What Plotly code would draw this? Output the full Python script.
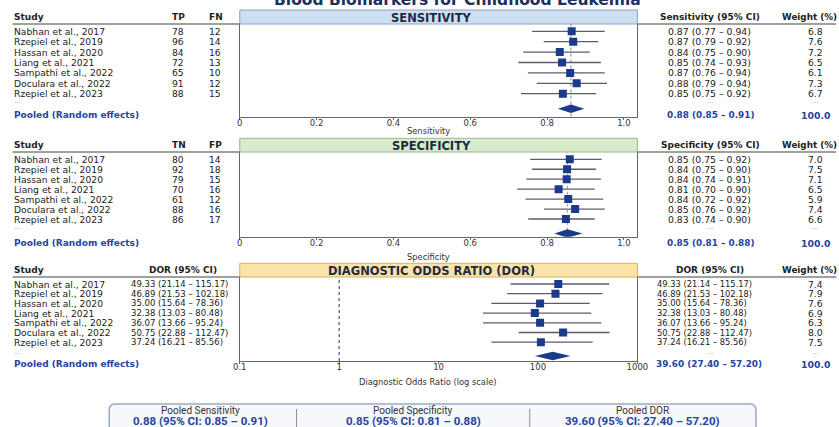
import plotly.graph_objects as go

W, H = 839, 427

# ---------------- data ----------------
studies = ["Nabhan et al., 2017", "Rzepiel et al., 2019", "Hassan et al., 2020",
           "Liang et al., 2021", "Sampathi et al., 2022", "Doculara et al., 2022",
           "Rzepiel et al., 2023"]
tp = [78, 96, 84, 72, 65, 91, 88]
fn = [12, 14, 16, 13, 10, 12, 15]
tn = [80, 92, 79, 70, 61, 88, 86]
fp = [14, 18, 15, 16, 12, 16, 17]

# printed values (tables)
sens_est = [0.87, 0.87, 0.84, 0.85, 0.87, 0.88, 0.85]
sens_lo = [0.77, 0.79, 0.75, 0.74, 0.76, 0.79, 0.75]
sens_hi = [0.94, 0.92, 0.90, 0.93, 0.94, 0.94, 0.92]
sens_w = [6.8, 7.6, 7.2, 6.5, 6.1, 7.3, 6.7]
sens_pool = (0.88, 0.85, 0.91)

spec_est = [0.85, 0.84, 0.84, 0.81, 0.84, 0.85, 0.83]
spec_lo = [0.75, 0.75, 0.74, 0.70, 0.72, 0.76, 0.74]
spec_hi = [0.92, 0.90, 0.91, 0.90, 0.92, 0.92, 0.90]
spec_w = [7.0, 7.5, 7.1, 6.5, 5.9, 7.4, 6.6]
spec_pool = (0.85, 0.81, 0.88)

dor_est = [49.33, 46.89, 35.00, 32.38, 36.07, 50.75, 37.24]
dor_lo = [21.14, 21.53, 15.64, 13.03, 13.66, 22.88, 16.21]
dor_hi = [115.17, 102.18, 78.36, 80.48, 95.24, 112.47, 85.56]
dor_w = [7.4, 7.9, 7.6, 6.9, 6.3, 8.0, 7.5]
dor_pool = (39.60, 27.40, 57.20)

# drawn positions of the marks as they appear in the figure
sens_plot_est = [0.864, 0.868, 0.833, 0.839, 0.860, 0.877, 0.841]
sens_plot_lo = [0.761, 0.791, 0.738, 0.725, 0.750, 0.773, 0.732]
sens_plot_hi = [0.950, 0.933, 0.911, 0.940, 0.950, 0.956, 0.928]
sens_plot_pool = (0.862, 0.828, 0.897)

spec_plot_est = [0.859, 0.852, 0.851, 0.830, 0.855, 0.873, 0.849]
spec_plot_lo = [0.756, 0.761, 0.746, 0.722, 0.744, 0.792, 0.751]
spec_plot_hi = [0.942, 0.927, 0.940, 0.924, 0.946, 0.950, 0.924]
spec_plot_pool = (0.853, 0.819, 0.892)

dor_plot_est = [160, 150, 105, 93, 105, 179, 107]
dor_plot_lo = [53, 49, 34, 28, 28, 64, 34]
dor_plot_hi = [521, 447, 331, 344, 433, 525, 355]
dor_plot_pool = (141, 93, 212)
dor_ref_line = 1

lin_ticks = [0, 0.2, 0.4, 0.6, 0.8, 1.0]
lin_ticktext = ["0", "0.2", "0.4", "0.6", "0.8", "1.0"]
log_ticks = [0.1, 1, 10, 100, 1000]
log_ticktext = ["0.1", "1", "10", "100", "1000"]

# ---------------- styling / layout constants ----------------
FONT = "DejaVu Sans"
NAVY = "#1b3a8c"
BLUE = "#2444a0"
TXT = "#222222"
CI_COL = "#5a5c6c"
PX0, PX1 = 239, 638
# horizontal compensation for the capture (observed x_shown = 0.982 * x + 5.4)
XS, XO = 0.982, 5.4
DOTS = "\u00b7\u00b7\u00b7"


def xp(p):
    return ((p - XO) / XS) / W


def yp(p):
    return 1 - p / H


fig = go.Figure()
annotations = []
shapes = []


def text(x, y, s, size=9.2, bold=False, color=TXT, xanchor="left", family=FONT):
    annotations.append(dict(
        x=xp(x), y=yp(y), xref="paper", yref="paper", text=(f"<b>{s}</b>" if bold else s),
        showarrow=False, xanchor=xanchor, yanchor="middle", borderpad=0,
        font=dict(family=family, size=size, color=color)))


sections = [
    dict(ax="", title="SENSITIVITY", band=(10, 24), axis=116.5, row0=31.3, dy=10.4,
         dots=103.5, pooled=115.3, dia=108.7, head=16.5,
         fill="#cddff3", border="#8aa3c4", xtitle="Sensitivity", xtitle_y=130.5,
         colA="TP", colB="FN", A=tp, B=fn, right_head="Sensitivity (95% CI)",
         est=sens_est, lo=sens_lo, hi=sens_hi, w=sens_w, pool=sens_pool,
         pest=sens_plot_est, plo=sens_plot_lo, phi=sens_plot_hi, ppool=sens_plot_pool,
         ref=sens_plot_pool[0], refcol="#9a9a9a", log=False),
    dict(ax="2", title="SPECIFICITY", band=(138.3, 152), axis=236.7, row0=159.3, dy=9.95,
         dots=228.5, pooled=243.3, dia=233.5, head=144.7,
         fill="#d6ecca", border="#98b98a", xtitle="Specificity", xtitle_y=256.5,
         colA="TN", colB="FP", A=tn, B=fp, right_head="Specificity (95% CI)",
         est=spec_est, lo=spec_lo, hi=spec_hi, w=spec_w, pool=spec_pool,
         pest=spec_plot_est, plo=spec_plot_lo, phi=spec_plot_hi, ppool=spec_plot_pool,
         ref=spec_plot_pool[0], refcol="#a8a8a8", log=False),
    dict(ax="3", title="DIAGNOSTIC ODDS RATIO (DOR)", band=(263.3, 277), axis=361, row0=284, dy=9.7,
         dots=353.5, pooled=364.3, dia=356, head=269.7,
         fill="#fbe3a8", border="#d2b261", xtitle="Diagnostic Odds Ratio (log scale)", xtitle_y=381.5,
         colA=None, colB=None, A=None, B=None, right_head="DOR (95% CI)",
         est=dor_est, lo=dor_lo, hi=dor_hi, w=dor_w, pool=dor_pool,
         pest=dor_plot_est, plo=dor_plot_lo, phi=dor_plot_hi, ppool=dor_plot_pool,
         ref=dor_ref_line, refcol="#555555", log=True),
]

layout_axes = {}
for s in sections:
    ax = s["ax"]
    xname, yname = "x" + ax, "y" + ax
    top = s["band"][1]
    bot = s["axis"]
    n = len(studies)
    rows = [s["row0"] + i * s["dy"] for i in range(n)]

    # CI lines
    cx, cy = [], []
    for i in range(n):
        cx += [s["plo"][i], s["phi"][i], None]
        cy += [rows[i], rows[i], None]
    fig.add_trace(go.Scatter(x=cx, y=cy, mode="lines", line=dict(color=CI_COL, width=1.3),
                             xaxis=xname, yaxis=yname, hoverinfo="skip", showlegend=False))
    # study markers
    fig.add_trace(go.Scatter(x=s["pest"], y=rows, mode="markers",
                             marker=dict(symbol="square", size=8, color=NAVY, line=dict(width=0)),
                             xaxis=xname, yaxis=yname, showlegend=False))
    # pooled diamond
    pe, pl, ph = s["ppool"]
    d = s["dia"]
    hh = 4.3
    fig.add_trace(go.Scatter(x=[pl, pe, ph, pe, pl], y=[d, d - hh, d, d + hh, d], mode="lines",
                             fill="toself", fillcolor=NAVY, line=dict(width=0, color=NAVY),
                             xaxis=xname, yaxis=yname, showlegend=False, hoverinfo="skip"))
    # reference dotted line
    shapes.append(dict(type="line", xref=xname, yref=yname + " domain", x0=s["ref"], x1=s["ref"],
                       y0=0, y1=1, line=dict(color=s["refcol"], width=1.2, dash="dot"), layer="below"))

    key = "xaxis" + ax
    ykey = "yaxis" + ax
    if s["log"]:
        xcfg = dict(type="log", range=[-1, 3], tickvals=log_ticks, ticktext=log_ticktext)
    else:
        xcfg = dict(range=[0, 1.035], tickvals=lin_ticks, ticktext=lin_ticktext)
    xcfg.update(domain=[xp(PX0), xp(PX1)], anchor=yname, showline=True, mirror=True,
                linecolor="#666666", linewidth=1, ticks="outside", ticklen=2, tickcolor="#666666",
                tickfont=dict(family=FONT, size=8.5, color="#333333"), showgrid=False,
                zeroline=False, fixedrange=True, ticklabelstandoff=-4)
    layout_axes[key] = xcfg
    layout_axes[ykey] = dict(domain=[yp(bot), yp(top)], range=[bot, top], anchor=xname,
                             showline=True, mirror=True, linecolor="#666666", linewidth=1,
                             showticklabels=False, ticks="", showgrid=False, zeroline=False)

    # header band
    b0, b1 = s["band"]
    shapes.append(dict(type="rect", xref="paper", yref="paper", x0=xp(PX0), x1=xp(PX1),
                       y0=yp(b1), y1=yp(b0), fillcolor=s["fill"],
                       line=dict(color=s["border"], width=1)))
    text(431, (b0 + b1) / 2 + 0.5, s["title"], size=11.5, bold=True, color="#1e2a44", xanchor="center")

    # header separator lines
    shapes.append(dict(type="line", xref="paper", yref="paper", x0=xp(11), x1=xp(PX0),
                       y0=yp(b1), y1=yp(b1), line=dict(color="#808080", width=1.3)))
    shapes.append(dict(type="line", xref="paper", yref="paper", x0=xp(PX1), x1=1.01,
                       y0=yp(b1), y1=yp(b1), line=dict(color="#808080", width=1.3)))

    # left table
    hy = s["head"]
    text(11, hy, "Study", bold=True, size=9)
    if s["colA"]:
        text(170, hy, s["colA"], bold=True, size=9)
        text(207, hy, s["colB"], bold=True, size=9)
    else:
        text(182, hy, "DOR (95% CI)", bold=True, size=9, xanchor="center")
    for i in range(n):
        text(11, rows[i], studies[i])
        if s["colA"]:
            text(170, rows[i], str(s["A"][i]))
            text(207, rows[i], str(s["B"][i]))
        else:
            text(129, rows[i], "{:.2f} ({:.2f} – {:.2f})".format(s["est"][i], s["lo"][i], s["hi"][i]),
                 size=8.5)
    text(11, s["dots"], DOTS, size=7, color="#999999")
    text(11, s["pooled"], "Pooled (Random effects)", bold=True, size=9, color=BLUE)

    # right table
    text(711, hy, s["right_head"], bold=True, size=9, xanchor="center")
    text(811, hy, "Weight (%)", bold=True, size=8.8, xanchor="center")
    rx = 657 if s["log"] else 668
    csize = 8.3 if s["log"] else 9.3
    for i in range(n):
        text(rx, rows[i], "{:.2f} ({:.2f} – {:.2f})".format(s["est"][i], s["lo"][i], s["hi"][i]), size=csize)
        text(817, rows[i], "{:.1f}".format(s["w"][i]), xanchor="center")
    text(711, s["dots"], DOTS, size=7, color="#999999", xanchor="center")
    text(817, s["dots"], DOTS, size=7, color="#999999", xanchor="center")
    pe_, pl_, ph_ = s["pool"]
    text(rx - 1, s["pooled"], "{:.2f} ({:.2f} – {:.2f})".format(pe_, pl_, ph_),
         bold=True, size=8.9, color=BLUE)
    text(817, s["pooled"], "100.0", bold=True, size=9.3, color=BLUE, xanchor="center")

    # axis title
    text(428, s["xtitle_y"], s["xtitle"], size=8.3, color="#333333", xanchor="center")

# title (top partially cut off)
annotations.append(dict(x=xp(457), y=yp(11), xref="paper", yref="paper",
                        text="<b>Blood Biomarkers for Childhood Leukemia</b>", showarrow=False,
                        xanchor="center", yanchor="bottom",
                        font=dict(family=FONT, size=15.5, color="#1d2f5f")))

# bottom summary box
bx0, bx1, byt, byb, r = 108, 757, 404, 440, 6
path = (f"M {xp(bx0 + r)},{yp(byt)} L {xp(bx1 - r)},{yp(byt)} Q {xp(bx1)},{yp(byt)} {xp(bx1)},{yp(byt + r)} "
        f"L {xp(bx1)},{yp(byb)} L {xp(bx0)},{yp(byb)} L {xp(bx0)},{yp(byt + r)} "
        f"Q {xp(bx0)},{yp(byt)} {xp(bx0 + r)},{yp(byt)} Z")
shapes.append(dict(type="path", xref="paper", yref="paper", path=path, fillcolor="#f6f8fc",
                   line=dict(color="#9aaac6", width=1.5)))
for dxp in (296, 530):
    shapes.append(dict(type="line", xref="paper", yref="paper", x0=xp(dxp), x1=xp(dxp),
                       y0=yp(409), y1=yp(430), line=dict(color="#8c8c8c", width=1)))

summary_titles = ["Pooled Sensitivity", "Pooled Specificity", "Pooled DOR"]
summary_vals = [sens_pool, spec_pool, dor_pool]
summary_cx = [200, 413, 643]
for t, v, cx in zip(summary_titles, summary_vals, summary_cx):
    text(cx, 410.5, t, size=10, color="#333333", xanchor="center", family="Roboto")
    text(cx, 420.5, "{:.2f} (95% CI: {:.2f} – {:.2f})".format(*v), size=11.5, bold=True,
         color=BLUE, xanchor="center", family="Roboto")

fig.update_layout(width=W, height=H, autosize=False, margin=dict(l=0, r=0, t=0, b=0),
                  paper_bgcolor="white", plot_bgcolor="white", showlegend=False,
                  annotations=annotations, shapes=shapes, **layout_axes)

fig.write_html("out.html", config={"displayModeBar": False},
               post_script="document.body.style.margin='0';document.body.style.padding='0';"
                           "document.documentElement.style.overflow='hidden';")
